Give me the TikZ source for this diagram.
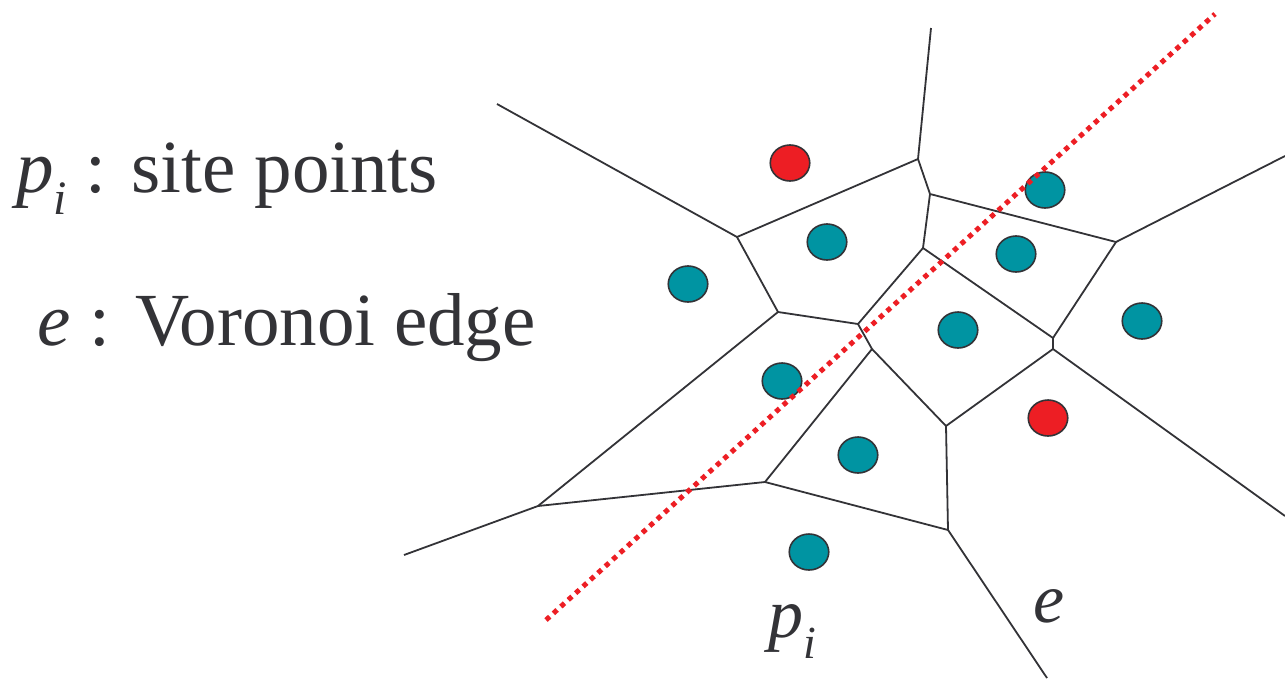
\documentclass[tikz,border=0pt]{standalone}
\usepackage{fontspec}
\setmainfont{Liberation Serif}
\usepackage{xcolor}
\usetikzlibrary{shapes.geometric, positioning, calc}
\definecolor{siteteal}{RGB}{0,148,162}
\definecolor{sitered}{RGB}{237,30,36}
\definecolor{edgegray}{RGB}{51,51,55}

\begin{document}
\begin{tikzpicture}[x=1pt, y=-1pt,
    vedge/.style={draw=edgegray, line width=1.8pt},
    site/.style={ellipse, draw=edgegray, line width=1.6pt, minimum width=39.5pt, minimum height=36pt, inner sep=0pt},
    tealsite/.style={site, fill=siteteal},
    redsite/.style={site, fill=sitered},
    bisector/.style={draw=sitered, line width=5pt, dash pattern=on 5pt off 5pt},
    bigtext/.style={font=\fontsize{75}{90}\selectfont, text=edgegray, inner sep=0pt, anchor=base west},
    smalltext/.style={font=\fontsize{70}{84}\selectfont, text=edgegray, inner sep=0pt, anchor=base west}]

    \useasboundingbox (0,0) rectangle (1285,678);

    % --- Legend ---
    \node[bigtext] (lblsite) at (16,192) {\textit{p}\raisebox{-0.3em}{\fontsize{48}{48}\selectfont\textit{i}} : site points};
    \node[bigtext] (lbledge) at (37,345) {\textit{e} : Voronoi edge};

    % --- Voronoi vertices ---
    \coordinate (vA) at (918,159);
    \coordinate (vB) at (930,194);
    \coordinate (vC) at (737,237);
    \coordinate (vD) at (778,312);
    \coordinate (vE) at (858,324);
    \coordinate (vF) at (923,248);
    \coordinate (vG) at (872,349);
    \coordinate (vH) at (946,426);
    \coordinate (vI) at (1053,338);
    \coordinate (vJ) at (1053,349);
    \coordinate (vK) at (948,530);
    \coordinate (vL) at (1116,242);
    \coordinate (vM) at (538,506);
    \coordinate (vN) at (765,482);
    % open ends of the unbounded edges
    \coordinate (oTop) at (931,28);
    \coordinate (oTL) at (497,104);
    \coordinate (oR1) at (1285,156);
    \coordinate (oR2) at (1285,516);
    \coordinate (oBot) at (1047,678);
    \coordinate (oBL) at (404,555);

    % --- Voronoi edges ---
    \draw[vedge] (oTop) -- (vA) -- (vB) -- (vL) -- (oR1);
    \draw[vedge] (oTL) -- (vC) -- (vA);
    \draw[vedge] (vB) -- (vF) -- (vE);
    \draw[vedge] (vF) -- (vI) -- (vJ) -- (oR2);
    \draw[vedge] (vL) -- (vI);
    \draw[vedge] (vC) -- (vD) -- (vE) -- (vG) -- (vH) -- (vJ);
    \draw[vedge] (vD) -- (vM) -- (oBL);
    \draw[vedge] (vM) -- (vN) -- (vG);
    \draw[vedge] (vN) -- (vK) -- (vH);
    \draw[vedge] (vK) -- (oBot);

    % --- Site points ---
    \node[redsite] (s1) at (790,163) {};
    \node[tealsite] (s2) at (827,242) {};
    \node[tealsite] (s3) at (688,284) {};
    \node[tealsite] (s4) at (1045,190) {};
    \node[tealsite] (s5) at (1016,254) {};
    \node[tealsite] (s6) at (1142,321) {};
    \node[tealsite] (s7) at (958,330) {};
    \node[redsite] (s8) at (1048,418) {};
    \node[tealsite] (s9) at (782,381) {};
    \node[tealsite] (s10) at (858,455) {};
    \node[tealsite] (s11) at (809,552) {};

    % --- Dotted line through the diagram ---
    \coordinate (lnA) at (546,620);
    \coordinate (lnB) at (1215,14);
    \draw[bisector] (lnA) -- (lnB);

    % --- Labels at the bottom ---
    \node[smalltext] (lblp) at (768,637) {\textit{p}\raisebox{-0.3em}{\fontsize{46}{46}\selectfont\textit{i}}};
    \node[smalltext] (lble) at (1033,622) {\textit{e}};

\end{tikzpicture}
\end{document}
